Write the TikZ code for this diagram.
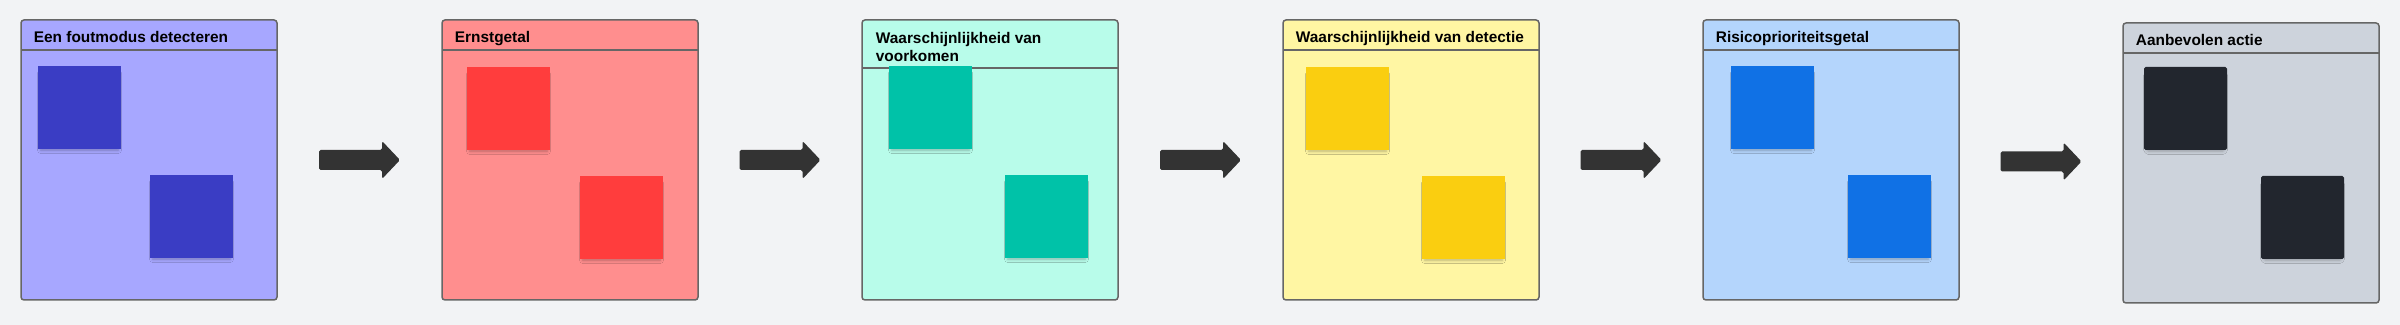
\documentclass[tikz,border=0pt]{standalone}
\usepackage{fontspec}
\setmainfont{Liberation Sans}
\usetikzlibrary{shadows,shadows.blur,calc}
\definecolor{bgc}{HTML}{F2F3F5}
\definecolor{edgec}{HTML}{666666}
\definecolor{arrc}{HTML}{333333}
\definecolor{pa}{HTML}{A7A7FF}\definecolor{sa}{HTML}{3A3DC4}
\definecolor{pb}{HTML}{FF8E8E}\definecolor{sb}{HTML}{FF3D3D}
\definecolor{pc}{HTML}{B8FCEA}\definecolor{sc}{HTML}{00C2A8}
\definecolor{pd}{HTML}{FFF6A3}\definecolor{sd}{HTML}{FACE10}
\definecolor{pe}{HTML}{B4D5FC}\definecolor{se}{HTML}{1071E5}
\definecolor{pf}{HTML}{CDD3DC}\definecolor{sf}{HTML}{22262E}
\tikzset{
  panel/.style={draw=edgec, line width=0.75pt, rounded corners=1.5pt, anchor=north west,
    minimum width=128pt, minimum height=140pt, inner sep=0pt, outer sep=0pt},
  hdrline/.style={draw=edgec, line width=0.75pt},
  ptitle/.style={anchor=base west, inner sep=0pt, font=\fontsize{7.7}{9}\selectfont\bfseries, text=black},
  stickynote/.style={anchor=north west, minimum width=41.5pt, minimum height=41.5pt, inner sep=0pt, outer sep=0pt,
    blur shadow={shadow xshift=0pt, shadow yshift=-2.2pt, shadow blur radius=1.8pt, shadow opacity=28, shadow scale=0.93}},
  blockarrow/.style={fill=arrc, rounded corners=0.8pt}
}
\newcommand\drawblockarrow[1]{%
  \fill[blockarrow] ([shift={(-40.5,-10)}]#1) -- ([shift={(22.5,-10)}]#1) -- ([shift={(22.5,-19)}]#1)
    -- ([shift={(40.5,0)}]#1) -- ([shift={(22.5,19)}]#1) -- ([shift={(22.5,10)}]#1)
    -- ([shift={(-40.5,10)}]#1) -- cycle;}
\begin{document}
\begin{tikzpicture}[x=0.5pt, y=-0.5pt]
\useasboundingbox[fill=bgc] (0,0) rectangle (2400,325);
% panels
\node[panel, fill=pa] (p1) at (21,20) {};
\node[panel, fill=pb] (p2) at (442,20) {};
\node[panel, fill=pc] (p3) at (862,20) {};
\node[panel, fill=pd] (p4) at (1283,20) {};
\node[panel, fill=pe] (p5) at (1703,20) {};
\node[panel, fill=pf] (p6) at (2123,23) {};
% header lines
\foreach \p in {p1,p2,p4,p5,p6}{
  \draw[hdrline] ([shift={(0,30)}]\p.north west) -- ([shift={(0,30)}]\p.north east);
}
\draw[hdrline] ([shift={(0,48)}]p3.north west) -- ([shift={(0,48)}]p3.north east);
% titles
\node[ptitle] (t1) at ([shift={(12.5,22.7)}]p1.north west) {Een foutmodus detecteren};
\node[ptitle] (t2) at ([shift={(12.5,22.7)}]p2.north west) {Ernstgetal};
\node[ptitle, anchor=north west, align=left] (t3) at ([shift={(13.5,11.5)}]p3.north west) {Waarschijnlijkheid van\\voorkomen};
\node[ptitle] (t4) at ([shift={(12.5,22.7)}]p4.north west) {Waarschijnlijkheid van detectie};
\node[ptitle] (t5) at ([shift={(12.5,22.7)}]p5.north west) {Risicoprioriteitsgetal};
\node[ptitle] (t6) at ([shift={(12.5,22.7)}]p6.north west) {Aanbevolen actie};
% sticky notes
\node[stickynote, fill=sa] (s1a) at (38,66) {};
\node[stickynote, fill=sa] (s1b) at (150,175) {};
\node[stickynote, fill=sb] (s2a) at (467,67) {};
\node[stickynote, fill=sb] (s2b) at (580,176) {};
\node[stickynote, fill=sc] (s3a) at (889,66) {};
\node[stickynote, fill=sc] (s3b) at (1005,175) {};
\node[stickynote, fill=sd] (s4a) at (1306,67) {};
\node[stickynote, fill=sd] (s4b) at (1422,176) {};
\node[stickynote, fill=se] (s5a) at (1731,66) {};
\node[stickynote, fill=se] (s5b) at (1848,175) {};
\node[stickynote, fill=sf, rounded corners=0.8pt] (s6a) at (2144,67) {};
\node[stickynote, fill=sf, rounded corners=0.8pt] (s6b) at (2261,176) {};
% arrows between panels
\coordinate (a1) at ($(p1.east)!0.5!(p2.west)$);
\coordinate (a2) at ($(p2.east)!0.5!(p3.west)$);
\coordinate (a3) at ($(p3.east)!0.5!(p4.west)$);
\coordinate (a4) at ($(p4.east)!0.5!(p5.west)$);
\coordinate (a5) at ($(p5.east)!0.5!(p6.west)$);
\foreach \a in {a1,a2,a3,a4,a5}{\drawblockarrow{\a}}
\end{tikzpicture}
\end{document}
